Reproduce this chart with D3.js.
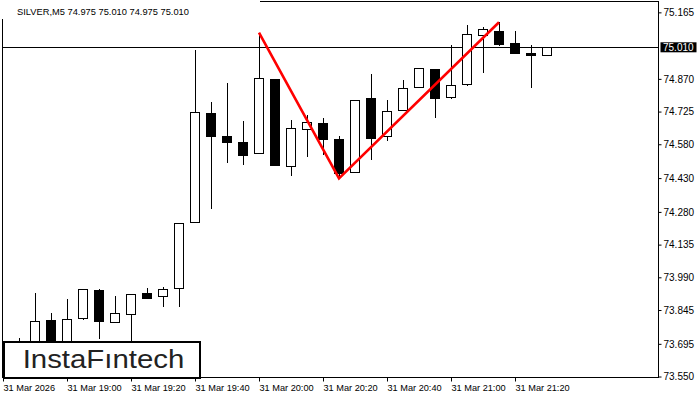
<!DOCTYPE html>
<html>
<head>
<meta charset="utf-8">
<script src="https://cdn.jsdelivr.net/npm/d3@7"></script>
<style>
  html, body { margin: 0; padding: 0; background: #fff; }
  svg { display: block; }
  text { font-family: "Liberation Sans", Arial, sans-serif; }
</style>
</head>
<body>
<svg id="chart" width="700" height="400"></svg>
<script>
// ---------------- DATA ----------------
const times = ["18:45","18:50","18:55","19:00","19:05","19:10","19:15","19:20","19:25","19:30",
  "19:35","19:40","19:45","19:50","19:55","20:00","20:05","20:10","20:15","20:20",
  "20:25","20:30","20:35","20:40","20:45","20:50","20:55","21:00","21:05","21:10",
  "21:15","21:20","21:25","21:30"];
const open  = [73.640,73.700,73.801,73.700,73.808,73.934,73.793,73.826,73.919,73.906,
  73.941,74.237,74.717,74.617,74.590,74.540,74.868,74.485,74.646,74.673,
  74.603,74.456,74.784,74.615,74.732,74.833,74.912,74.788,74.846,75.063,
  75.082,75.028,74.986,74.975];
const high  = [73.721,73.919,73.833,73.894,73.940,73.936,73.907,73.918,73.944,73.948,
  74.230,74.998,74.767,74.852,74.683,75.075,74.869,74.688,74.710,74.696,
  74.617,74.776,74.892,74.776,74.865,74.918,74.913,75.020,75.109,75.101,
  75.121,75.082,75.020,75.010];
const low   = [73.600,73.650,73.660,73.680,73.806,73.722,73.790,73.690,73.897,73.864,
  73.864,74.235,74.299,74.503,74.494,74.540,74.488,74.445,74.529,74.537,
  74.436,74.455,74.516,74.599,74.731,74.832,74.702,74.787,74.845,74.902,
  75.022,74.985,74.835,74.975];
const close = [73.680,73.796,73.690,73.804,73.938,73.798,73.833,73.916,73.900,73.938,
  74.230,74.722,74.618,74.591,74.534,74.873,74.489,74.651,74.677,74.605,
  74.451,74.775,74.609,74.726,74.828,74.917,74.784,74.841,75.069,75.090,
  75.023,74.986,74.975,75.010];

// double top pattern (red lines)
const patternTimes  = ["20:00","20:25","21:15"];
const patternPrices = [75.075, 74.429, 75.121];

const currentPrice = 75.010;
const titleText = "SILVER,M5  74.975 75.010 74.975 75.010";

const yTickValues = [75.165, 74.870, 74.725, 74.580, 74.430, 74.280, 74.135, 73.990, 73.845, 73.695, 73.550];
const xTickTimes  = ["18:40","19:00","19:20","19:40","20:00","20:20","20:40","21:00","21:20"];
const xTickLabels = ["31 Mar 2026","31 Mar 19:00","31 Mar 19:20","31 Mar 19:40","31 Mar 20:00",
  "31 Mar 20:20","31 Mar 20:40","31 Mar 21:00","31 Mar 21:20"];
const logoText = "InstaF\u0131ntech";

// ---------------- LAYOUT ----------------
const svg = d3.select("#chart");
const plot = { left: 3, right: 659, top: 2, bottom: 378 };

const parseT = s => { const [h, m] = s.split(":").map(Number); return new Date(2026, 2, 31, h, m); };

const x = d3.scaleTime()
  .domain([parseT("18:40"), parseT("22:05")])
  .range([plot.left, plot.right]);

const y = d3.scaleLinear()
  .domain([75.010, 73.550])
  .range([47.3, 376.53]);

const candles = times.map((t, i) => ({ t: parseT(t), o: open[i], h: high[i], l: low[i], c: close[i] }));

// clip for plot area
svg.append("defs").append("clipPath").attr("id", "plotclip")
  .append("rect").attr("x", plot.left).attr("y", plot.top)
  .attr("width", plot.right - plot.left).attr("height", plot.bottom - plot.top);

const g = svg.append("g").attr("clip-path", "url(#plotclip)");

// current price line
g.append("line")
  .attr("x1", plot.left).attr("x2", plot.right)
  .attr("y1", Math.round(y(currentPrice)) + 0.5).attr("y2", Math.round(y(currentPrice)) + 0.5)
  .attr("stroke", "#000").attr("stroke-width", 1);

// candles
const cg = g.append("g");
const px = v => Math.round(v);
candles.forEach(d => {
  const cx = px(x(d.t));
  cg.append("line")
    .attr("x1", cx + 0.5).attr("x2", cx + 0.5)
    .attr("y1", px(y(d.h))).attr("y2", px(y(d.l)) + 1)
    .attr("stroke", "#000").attr("stroke-width", 1);
  const top = px(y(Math.max(d.o, d.c)));
  const bot = px(y(Math.min(d.o, d.c)));
  const bull = d.c >= d.o;
  cg.append("rect")
    .attr("x", cx - 4.5).attr("width", 9)
    .attr("y", top + 0.5).attr("height", Math.max(bot - top, 1))
    .attr("fill", bull ? "#fff" : "#000")
    .attr("stroke", "#000").attr("stroke-width", 1);
});

// red pattern lines
const line = d3.line().x((d, i) => x(parseT(patternTimes[i]))).y((d, i) => y(patternPrices[i]));
g.append("path")
  .datum(patternPrices)
  .attr("d", line)
  .attr("fill", "none")
  .attr("stroke", "#ff0000")
  .attr("stroke-width", 2.6)
  .attr("stroke-linejoin", "miter");

// frame
svg.append("rect")
  .attr("x", plot.left - 0.5).attr("y", plot.top - 0.5)
  .attr("width", plot.right - plot.left).attr("height", plot.bottom - plot.top)
  .attr("fill", "none").attr("stroke", "#000").attr("stroke-width", 1);

// title background and text
svg.append("rect").attr("x", 0).attr("y", 0).attr("width", 260).attr("height", 19).attr("fill", "#fff");
svg.append("text")
  .attr("x", 17).attr("y", 14.5)
  .attr("font-size", 9.3)
  .attr("fill", "#000")
  .text(titleText);

// y axis (right)
const yAxis = d3.axisRight(y)
  .tickValues(yTickValues)
  .tickFormat(d3.format(".3f"))
  .tickSize(3)
  .tickPadding(2);
const yg = svg.append("g").attr("transform", `translate(${plot.right - 0.5},0)`).call(yAxis);
yg.select(".domain").remove();
yg.selectAll("text").attr("font-size", 10).attr("font-family", "Liberation Sans, Arial, sans-serif").attr("fill", "#000");
yg.selectAll("line").attr("stroke", "#000");

// current price label box
const cpY = y(currentPrice);
svg.append("rect")
  .attr("x", 660.5).attr("y", cpY - 5).attr("width", 36).attr("height", 10)
  .attr("fill", "#000");
svg.append("text")
  .attr("x", 663).attr("y", cpY).attr("dy", "0.35em")
  .attr("font-size", 10).attr("fill", "#fff")
  .text(d3.format(".3f")(currentPrice));

// x axis (bottom)
const xAxis = d3.axisBottom(x)
  .tickValues(xTickTimes.map(parseT))
  .tickFormat((d, i) => xTickLabels[i])
  .tickSize(4)
  .tickPadding(3);
const xg = svg.append("g").attr("transform", `translate(0,${plot.bottom - 0.5})`).call(xAxis);
xg.select(".domain").remove();
xg.selectAll("text")
  .attr("text-anchor", "start")
  .attr("font-size", 9.2)
  .attr("font-family", "Liberation Sans, Arial, sans-serif")
  .attr("fill", "#000");
xg.selectAll("line").attr("stroke", "#000");

// logo box
svg.append("rect")
  .attr("x", 4).attr("y", 342)
  .attr("width", 196).attr("height", 36)
  .attr("fill", "#fff").attr("stroke", "#000").attr("stroke-width", 2);
svg.append("text")
  .attr("x", 22.7).attr("y", 367.7)
  .attr("font-family", "Inter, 'Open Sans', sans-serif")
  .attr("font-weight", 500)
  .attr("font-size", 25)
  .attr("fill", "#222")
  .attr("textLength", 161.6)
  .attr("lengthAdjust", "spacingAndGlyphs")
  .text(logoText);
</script>
</body>
</html>
